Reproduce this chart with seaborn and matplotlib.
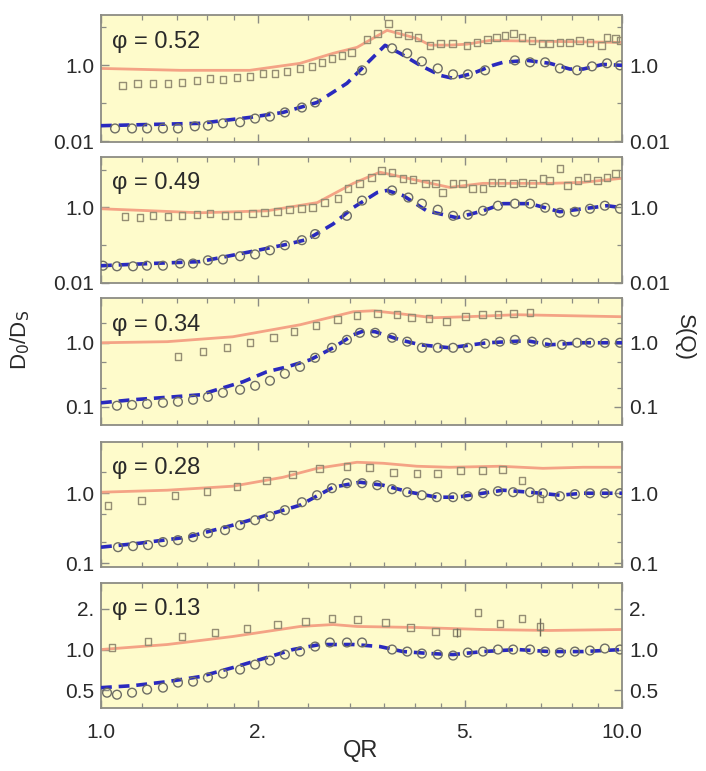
import numpy as np
import pandas as pd
import matplotlib
matplotlib.use("Agg")
import matplotlib.pyplot as plt
import seaborn as sns
from matplotlib.ticker import FixedLocator, FixedFormatter, NullFormatter

sns.set_style("ticks")
plt.rcParams["font.family"] = ["Liberation Sans", "DejaVu Sans"]

# ---------------- data ----------------
# phi = 0.52
q_sq_52 = [1.10, 1.173, 1.258, 1.345, 1.43, 1.528, 1.619, 1.714, 1.824, 1.932, 2.046, 2.158, 2.275, 2.41, 2.54,
           2.655, 2.775, 2.90, 3.03, 3.24, 3.40, 3.56, 3.715, 3.89, 4.06, 4.28, 4.48, 4.72, 5.04, 5.27, 5.51, 5.75,
           5.96, 6.18, 6.43, 6.72, 7.02, 7.27, 7.60, 7.94, 8.30, 8.68, 9.15, 9.36, 9.70, 9.91]
d_sq_52 = [0.30, 0.337, 0.337, 0.337, 0.357, 0.40, 0.455, 0.43, 0.48, 0.51, 0.62, 0.62, 0.695, 0.834, 0.94,
           1.2, 1.53, 1.83, 2.20, 4.83, 6.95, 12.7, 6.95, 6.16, 5.46, 3.36, 3.79, 3.79, 3.36, 4.03, 4.83, 5.46,
           6.16, 6.95, 5.46, 4.55, 3.79, 3.79, 4.03, 4.03, 4.55, 4.03, 3.36, 5.46, 5.13, 4.55]
q_red_52 = [1.0, 1.42, 1.93, 2.41, 2.79, 3.10, 3.54, 4.04, 4.28, 4.68, 5.04, 5.57, 6.95, 10.0]
d_red_52 = [0.83, 0.74, 0.74, 1.13, 2.07, 2.97, 8.3, 5.1, 3.4, 3.4, 3.6, 4.5, 4.3, 4.0]
q_ci_52 = [1.064, 1.147, 1.226, 1.315, 1.405, 1.514, 1.604, 1.714, 1.849, 1.976, 2.11, 2.254, 2.43, 2.576,
           3.17, 3.62, 3.87, 4.13, 4.43, 4.74, 5.06, 5.46, 6.23, 6.66, 7.12, 7.60, 8.20, 8.76, 9.36, 9.91]
s_ci_52 = [0.022, 0.022, 0.022, 0.022, 0.022, 0.025, 0.026, 0.030, 0.032, 0.040, 0.045, 0.058, 0.078, 0.106,
           0.74, 2.8, 2.07, 1.27, 0.83, 0.58, 0.58, 0.74, 1.35, 1.2, 1.2, 0.83, 0.74, 0.94, 1.13, 1.0]
q_bl_52 = [1.0, 1.242, 1.549, 1.932, 2.235, 2.598, 2.965, 3.327, 3.51, 3.75, 4.10, 4.48, 4.74, 5.18, 5.65,
           5.91, 6.57, 7.27, 7.94, 8.42, 9.19, 10.0]
s_bl_52 = [0.026, 0.028, 0.030, 0.043, 0.058, 0.106, 0.337, 1.62, 3.36, 2.07, 1.0, 0.545, 0.455, 0.62, 1.0,
           1.2, 1.35, 1.13, 0.8, 0.8, 1.06, 1.0]

# phi = 0.49
q_sq_49 = [1.112, 1.188, 1.258, 1.345, 1.43, 1.528, 1.619, 1.73, 1.83, 1.95, 2.06, 2.18, 2.30, 2.43, 2.55,
           2.69, 2.85, 2.98, 3.14, 3.31, 3.46, 3.62, 3.80, 3.97, 4.19, 4.38, 4.53, 4.74, 4.95, 5.17, 5.41, 5.63,
           5.88, 6.18, 6.45, 6.74, 7.05, 7.27, 7.60, 7.87, 8.23, 8.57, 8.97, 9.36, 9.70]
d_sq_49 = [0.56, 0.53, 0.60, 0.56, 0.60, 0.635, 0.676, 0.60, 0.60, 0.676, 0.72, 0.765, 0.867, 0.92, 0.98,
           1.34, 1.72, 3.20, 4.37, 6.35, 9.8, 8.67, 5.97, 5.6, 4.37, 4.37, 2.50, 4.37, 4.37, 3.20, 3.20, 4.65,
           4.65, 4.37, 4.65, 4.37, 5.97, 5.27, 11.1, 3.86, 5.27, 6.35, 5.27, 6.35, 8.15]
q_red_49 = [1.0, 1.549, 2.08, 2.60, 3.05, 3.43, 4.04, 4.67, 5.41, 6.28, 7.27, 8.42, 10.0]
d_red_49 = [0.92, 0.72, 0.81, 1.34, 4.37, 8.67, 5.27, 3.41, 4.37, 4.37, 4.37, 4.65, 5.97]
q_ci_49 = [1.009, 1.073, 1.152, 1.225, 1.315, 1.418, 1.502, 1.604, 1.714, 1.849, 1.976, 2.11, 2.254, 2.43,
           2.576, 2.965, 3.17, 3.62, 3.89, 4.13, 4.43, 4.74, 5.06, 5.41, 5.78, 6.23, 6.66, 7.12, 7.60, 8.12,
           8.68, 9.27, 9.91]
s_ci_49 = [0.028, 0.027, 0.027, 0.028, 0.028, 0.032, 0.032, 0.039, 0.041, 0.050, 0.056, 0.072, 0.098, 0.134,
           0.195, 0.597, 1.52, 2.83, 1.83, 1.26, 0.867, 0.597, 0.635, 0.814, 1.11, 1.26, 1.26, 0.98, 0.72, 0.765,
           0.92, 1.11, 0.92]
q_bl_49 = [1.0, 1.242, 1.549, 1.957, 2.275, 2.486, 2.788, 3.046, 3.39, 3.54, 3.80, 4.22, 4.82, 5.41, 5.91,
           6.66, 7.60, 8.42, 9.36, 10.0]
s_bl_49 = [0.028, 0.032, 0.036, 0.068, 0.104, 0.14, 0.36, 0.98, 2.5, 2.83, 2.07, 0.81, 0.53, 0.81, 1.26,
           1.26, 0.765, 0.92, 1.11, 0.98]

# phi = 0.34
q_sq_34 = [1.405, 1.57, 1.745, 1.932, 2.14, 2.347, 2.587, 2.84, 3.10, 3.39, 3.70, 3.95, 4.26, 4.61, 5.00,
           5.39, 5.78, 6.18, 6.66]
d_sq_34 = [0.604, 0.723, 0.835, 1.0, 1.197, 1.485, 1.84, 2.29, 2.64, 2.84, 2.74, 2.46, 2.38, 2.13, 2.55,
           2.74, 2.74, 2.84, 2.94]
q_red_34 = [1.0, 1.34, 1.79, 2.41, 3.05, 3.33, 3.75, 4.34, 5.04, 6.28, 10.0]
d_red_34 = [1.0, 1.04, 1.24, 1.91, 3.05, 3.16, 2.84, 2.46, 2.55, 2.74, 2.55]
q_ci_34 = [1.073, 1.147, 1.226, 1.315, 1.405, 1.502, 1.604, 1.714, 1.849, 1.976, 2.11, 2.254, 2.41, 2.576,
           2.775, 2.965, 3.14, 3.36, 3.62, 3.87, 4.13, 4.43, 4.74, 5.06, 5.46, 5.83, 6.23, 6.72, 7.18, 7.67,
           8.20, 8.68, 9.27, 9.91]
s_ci_34 = [0.104, 0.107, 0.111, 0.1155, 0.12, 0.129, 0.143, 0.1655, 0.1845, 0.213, 0.255, 0.328, 0.42, 0.583,
           0.835, 1.11, 1.43, 1.43, 1.197, 1.04, 0.835, 0.835, 0.835, 0.835, 0.97, 1.04, 1.11, 1.04, 1.0, 0.93,
           1.0, 1.0, 1.0, 1.0]
q_bl_34 = [1.0, 1.152, 1.375, 1.549, 1.873, 2.08, 2.275, 2.52, 2.79, 3.05, 3.20, 3.36, 3.75, 4.10, 4.67,
           5.51, 6.57, 7.27, 8.42, 10.0]
s_bl_34 = [0.1155, 0.129, 0.143, 0.154, 0.246, 0.352, 0.42, 0.542, 0.835, 1.33, 1.54, 1.485, 1.11, 0.93,
           0.835, 1.0, 1.075, 0.93, 1.0, 1.0]

# phi = 0.28
q_sq_28 = [1.031, 1.198, 1.387, 1.597, 1.824, 2.08, 2.335, 2.63, 2.965, 3.28, 3.64, 4.04, 4.43, 4.89, 5.39,
           5.89, 6.43, 6.96]
d_sq_28 = [0.674, 0.794, 0.936, 1.068, 1.259, 1.53, 1.87, 2.27, 2.43, 2.35, 2.0, 1.93, 1.93, 2.13, 2.13,
           2.20, 1.53, 0.848]
q_red_28 = [1.0, 1.34, 1.79, 2.235, 2.60, 3.10, 3.48, 4.04, 4.67, 5.83, 7.05, 8.42, 10.0]
d_red_28 = [1.033, 1.104, 1.259, 1.69, 2.27, 2.77, 2.68, 2.43, 2.35, 2.43, 2.27, 2.35, 2.35]
q_ci_28 = [1.078, 1.152, 1.231, 1.315, 1.405, 1.502, 1.604, 1.73, 1.849, 1.976, 2.11, 2.254, 2.43, 2.598,
           2.775, 2.965, 3.17, 3.39, 3.62, 3.87, 4.13, 4.41, 4.74, 5.06, 5.41, 5.78, 6.18, 6.66, 7.05, 7.60,
           8.12, 8.68, 9.27, 9.91]
s_ci_28 = [0.169, 0.175, 0.181, 0.20, 0.213, 0.235, 0.268, 0.296, 0.349, 0.411, 0.469, 0.572, 0.743, 0.936,
           1.18, 1.39, 1.39, 1.30, 1.14, 1.033, 0.936, 0.877, 0.877, 0.906, 1.0, 1.068, 1.033, 1.033, 1.0, 0.906,
           0.968, 1.0, 1.0, 1.0]
q_bl_28 = [1.0, 1.188, 1.462, 1.791, 2.08, 2.41, 2.79, 3.14, 3.48, 3.92, 4.41, 4.82, 5.41, 5.91, 6.66, 7.60,
           8.42, 10.0]
s_bl_28 = [0.169, 0.193, 0.235, 0.349, 0.485, 0.674, 1.218, 1.436, 1.30, 1.033, 0.877, 0.877, 1.0, 1.104,
           1.033, 0.936, 1.0, 1.0]

# phi = 0.13
q_sq_13 = [1.05, 1.231, 1.43, 1.655, 1.906, 2.18, 2.465, 2.775, 3.11, 3.51, 3.92, 4.38, 4.82, 5.29, 5.83,
           6.43, 6.96]
d_sq_13 = [1.035, 1.146, 1.248, 1.336, 1.43, 1.53, 1.61, 1.697, 1.668, 1.585, 1.455, 1.359, 1.336, 1.88,
           1.558, 1.697, 1.48]
q_red_13 = [1.0, 1.34, 1.79, 2.41, 2.79, 3.10, 4.04, 5.41, 7.27, 10.0]
d_red_13 = [1.0, 1.089, 1.248, 1.48, 1.53, 1.48, 1.455, 1.406, 1.383, 1.406]
q_ci_13 = [1.027, 1.073, 1.147, 1.226, 1.315, 1.405, 1.502, 1.604, 1.714, 1.849, 1.976, 2.11, 2.254, 2.41,
           2.576, 2.75, 2.965, 3.17, 3.62, 3.87, 4.13, 4.43, 4.74, 5.06, 5.41, 5.78, 6.18, 6.66, 7.12, 7.60,
           8.12, 8.68, 9.27, 9.91]
s_ci_13 = [0.48, 0.464, 0.48, 0.506, 0.523, 0.570, 0.579, 0.621, 0.664, 0.711, 0.774, 0.829, 0.918, 0.966,
           1.052, 1.127, 1.127, 1.127, 1.0, 0.966, 0.934, 0.918, 0.903, 0.95, 0.966, 1.0, 1.0, 1.0, 0.966, 0.95,
           0.966, 0.983, 1.017, 1.0]
q_bl_13 = [1.0, 1.152, 1.34, 1.549, 1.79, 2.08, 2.335, 2.63, 3.05, 3.43, 3.80, 4.28, 4.74, 5.41, 6.29, 7.27,
           8.42, 10.0]
s_bl_13 = [0.523, 0.541, 0.579, 0.631, 0.735, 0.872, 1.0, 1.089, 1.089, 1.052, 0.966, 0.934, 0.918, 0.966,
           1.0, 0.966, 0.966, 1.0]
q_err_13 = [4.82, 6.96]
d_err_13 = [1.336, 1.48]
e_err_13 = [0.10, 0.22]

phi_labels = ["0.52", "0.49", "0.34", "0.28", "0.13"]
x_ticks = [1.0, 2.0, 5.0, 10.0]
x_ticklabels = ["1.0", "2.", "5.", "10.0"]
x_minor = [1.2, 1.4, 1.6, 1.8, 2.5, 3.0, 3.5, 4.0, 4.5, 6.0, 7.0, 8.0, 9.0]

panels = [
    dict(sq=(q_sq_52, d_sq_52), red=(q_red_52, d_red_52), ci=(q_ci_52, s_ci_52), bl=(q_bl_52, s_bl_52),
         ylim=(0.0097, 21), yt=[0.01, 1.0], ytl=["0.01", "1.0"], ym=[0.1, 10.0]),
    dict(sq=(q_sq_49, d_sq_49), red=(q_red_49, d_red_49), ci=(q_ci_49, s_ci_49), bl=(q_bl_49, s_bl_49),
         ylim=(0.0097, 22), yt=[0.01, 1.0], ytl=["0.01", "1.0"], ym=[0.1, 10.0]),
    dict(sq=(q_sq_34, d_sq_34), red=(q_red_34, d_red_34), ci=(q_ci_34, s_ci_34), bl=(q_bl_34, s_bl_34),
         ylim=(0.052, 5.0), yt=[0.1, 1.0], ytl=["0.1", "1.0"], ym=[0.2, 0.5, 2.0]),
    dict(sq=(q_sq_28, d_sq_28), red=(q_red_28, d_red_28), ci=(q_ci_28, s_ci_28), bl=(q_bl_28, s_bl_28),
         ylim=(0.088, 5.4), yt=[0.1, 1.0], ytl=["0.1", "1.0"], ym=[0.2, 0.5, 2.0]),
    dict(sq=(q_sq_13, d_sq_13), red=(q_red_13, d_red_13), ci=(q_ci_13, s_ci_13), bl=(q_bl_13, s_bl_13),
         ylim=(0.37, 3.1), yt=[0.5, 1.0, 2.0], ytl=["0.5", "1.0", "2."], ym=[]),
]

# ---------------- style ----------------
BG = "#FEFBCB"
RED = "#F4A385"
BLUE = "#2A2ABE"
SQ = "#958E74"
CI = "#6E6E66"
FRAME = "#8C8C84"
TXT = "#2A2A2A"

fig = plt.figure(figsize=(7.06, 7.71), dpi=100)
W, H = 706.0, 771.0
left_px, right_px = 101, 622
rows_px = [(15, 142), (157, 283), (298, 425), (442, 567), (583, 708)]

for i, (p, (t, b)) in enumerate(zip(panels, rows_px)):
    ax = fig.add_axes([left_px / W, 1 - b / H, (right_px - left_px) / W, (b - t) / H])
    ax.set_facecolor(BG)

    df_red = pd.DataFrame({"q": p["red"][0], "v": p["red"][1]})
    sns.lineplot(data=df_red, x="q", y="v", ax=ax, color=RED, lw=2.0, sort=False, estimator=None)

    df_sq = pd.DataFrame({"q": p["sq"][0], "v": p["sq"][1]})
    sns.scatterplot(data=df_sq, x="q", y="v", ax=ax, marker="s", s=24,
                    facecolor="none", edgecolor=SQ, linewidth=1.0, zorder=3)

    df_bl = pd.DataFrame({"q": p["bl"][0], "v": p["bl"][1]})
    sns.lineplot(data=df_bl, x="q", y="v", ax=ax, color=BLUE, lw=2.6, sort=False, estimator=None)
    ax.lines[-1].set_dashes([3.0, 1.9])
    ax.lines[-1].set_zorder(4)

    df_ci = pd.DataFrame({"q": p["ci"][0], "v": p["ci"][1]})
    sns.scatterplot(data=df_ci, x="q", y="v", ax=ax, marker="o", s=40,
                    facecolor="none", edgecolor=CI, linewidth=1.0, zorder=5)

    if i == 4:
        ax.errorbar(q_err_13, d_err_13, yerr=e_err_13, fmt="none", ecolor="#6E6A5A", lw=1.0, zorder=3)

    ax.set_xscale("log")
    ax.set_yscale("log")
    ax.set_xlim(1.0, 10.0)
    ax.set_ylim(*p["ylim"])

    ax.xaxis.set_major_locator(FixedLocator(x_ticks))
    ax.xaxis.set_minor_locator(FixedLocator(x_minor))
    ax.xaxis.set_minor_formatter(NullFormatter())
    if i == 4:
        ax.xaxis.set_major_formatter(FixedFormatter(x_ticklabels))
    else:
        ax.xaxis.set_major_formatter(NullFormatter())

    ax.yaxis.set_major_locator(FixedLocator(p["yt"]))
    ax.yaxis.set_major_formatter(FixedFormatter(p["ytl"]))
    ax.yaxis.set_minor_locator(FixedLocator(p["ym"]))
    ax.yaxis.set_minor_formatter(NullFormatter())

    ax.tick_params(which="both", direction="in", top=True, right=True, labelright=True,
                   color=FRAME, labelcolor=TXT, labelsize=15)
    ax.tick_params(which="major", length=6, width=1.0, pad=5)
    ax.tick_params(axis="x", which="major", pad=11)
    ax.tick_params(which="minor", length=3.5, width=0.9)
    for sp in ax.spines.values():
        sp.set_color(FRAME)
        sp.set_linewidth(1.3)

    ax.set_xlabel("")
    ax.set_ylabel("")
    ax.text(0.022, 0.79, "\u03c6 = " + phi_labels[i], transform=ax.transAxes,
            fontsize=17, color=TXT, va="center", ha="left")

fig.text(361 / W, 1 - 751 / H, "QR", fontsize=17, color=TXT, ha="center", va="center")
fig.text(20 / W, 1 - 340 / H, r"D$_0$/D$_\mathrm{S}$", fontsize=16, color=TXT, ha="center", va="center",
         rotation=90)
fig.text(684 / W, 1 - 338 / H, "S(Q)", fontsize=16, color=TXT, ha="center", va="center", rotation=270)

fig.savefig("out.png", dpi=100)
